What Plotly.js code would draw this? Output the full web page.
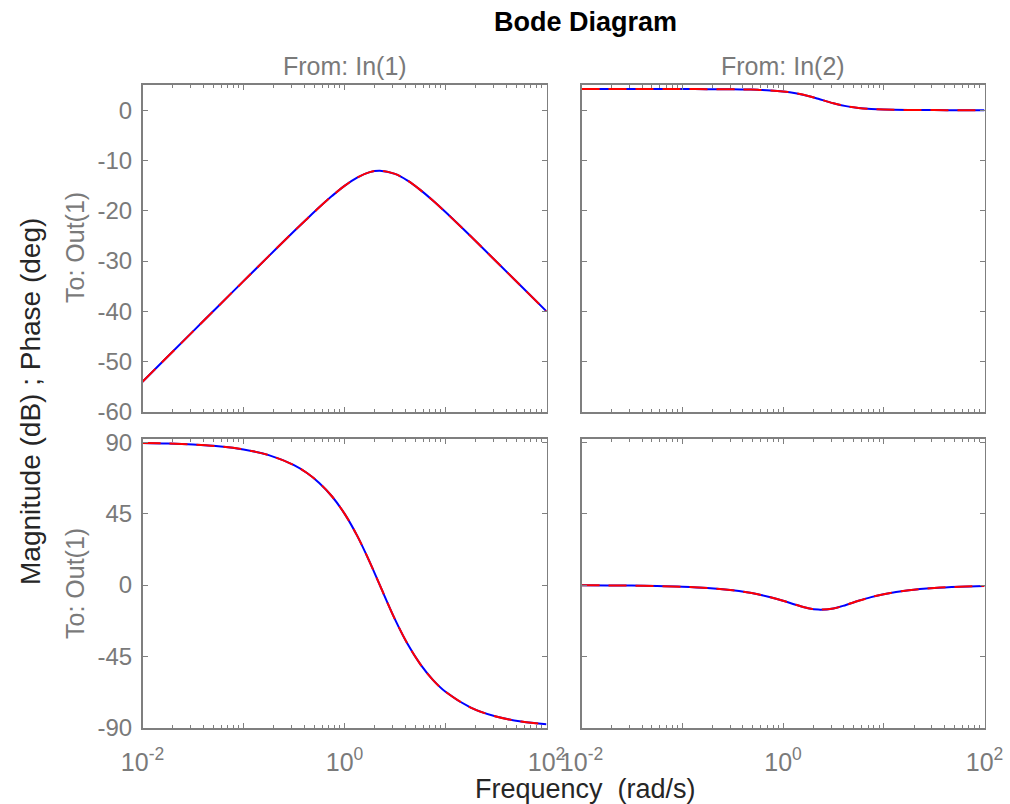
<!DOCTYPE html>
<html>
<head>
<meta charset="utf-8">
<script src="https://cdn.plot.ly/plotly-3.0.1.min.js"></script>
<style>html,body{margin:0;padding:0;background:#fff;}#chart{width:1010px;height:804px;}</style>
</head>
<body>
<div id="chart"></div>
<script>
// Frequency samples (rad/s)
const freq = [0.01, 0.01778, 0.03162, 0.05623, 0.1, 0.1778, 0.3162, 0.4217, 0.5623, 0.7499,
  1, 1.3335, 1.7783, 2.2387, 3.1623, 4.217, 5.6234, 7.4989, 10, 17.783, 31.623, 56.234, 100];

// From In(1) to Out(1)
const mag11 = [-53.98, -48.98, -43.98, -38.98, -33.99, -29.01, -24.08, -21.67, -19.31, -17.08,
  -15.05, -13.39, -12.32, -12.04, -12.67, -14.01, -15.85, -17.97, -20.26, -25.08, -30.03, -35.01, -40.00];
const phase11 = [89.54, 89.18, 88.55, 87.42, 85.42, 81.85, 75.53, 70.72, 64.35, 55.95,
  45.00, 31.13, 14.49, -0.08, -21.57, -37.16, -49.80, -59.65, -67.17, -77.13, -82.76, -85.93, -87.71];

// From In(2) to Out(1)
const mag12 = [4.19, 4.19, 4.19, 4.19, 4.19, 4.18, 4.14, 4.11, 4.04, 3.93,
  3.72, 3.37, 2.83, 2.26, 1.37, 0.80, 0.44, 0.24, 0.13, 0.04, 0.01, 0.00, 0.00];
const phase12 = [-0.11, -0.19, -0.33, -0.59, -1.05, -1.86, -3.30, -4.37, -5.79, -7.61,
  -9.83, -12.34, -14.57, -15.45, -14.72, -12.50, -9.90, -7.57, -5.72, -3.22, -1.81, -1.02, -0.57];

// Tick labels
const xTickVals = [0.01, 0.1, 1, 10, 100];
const xTickText = ['10<sup>-2</sup>', '', '10<sup>0</sup>', '', '10<sup>2</sup>'];
const magTicks = [-60, -50, -40, -30, -20, -10, 0];
const phaseTicks = [-90, -45, 0, 45, 90];

const FONT = 'Liberation Sans, Arial, Helvetica, sans-serif';
const AXCOL = '#7f7f7f';
const LBLCOL = '#7a7a7a';

const minorVals = [];
[-2, -1, 0, 1].forEach(d => { for (let k = 2; k <= 9; k++) minorVals.push(k * Math.pow(10, d)); });

function mkTraces(y, xa, ya) {
  return [
    {x: freq, y: y, xaxis: xa, yaxis: ya, type: 'scatter', mode: 'lines',
     line: {color: '#0000ff', width: 2, shape: 'spline'}, hoverinfo: 'skip'},
    {x: freq, y: y, xaxis: xa, yaxis: ya, type: 'scatter', mode: 'lines',
     line: {color: '#ff0000', width: 2, dash: '18px,9px', shape: 'spline'}, hoverinfo: 'skip'}
  ];
}

const data = [].concat(
  mkTraces(mag11, 'x', 'y'),
  mkTraces(mag12, 'x2', 'y2'),
  mkTraces(phase11, 'x3', 'y3'),
  mkTraces(phase12, 'x4', 'y4')
);

function xax(domain, anchor, labels) {
  return {
    type: 'log', range: [-2, 2], domain: domain, anchor: anchor,
    showline: true, linecolor: AXCOL, linewidth: 1.6, mirror: 'ticks',
    ticks: 'inside', ticklen: 5, tickwidth: 1, tickcolor: AXCOL,
    tickmode: 'array', tickvals: xTickVals, ticktext: xTickText,
    showticklabels: labels, ticklabelstandoff: 11,
    tickfont: {family: FONT, size: 25, color: LBLCOL},
    minor: {tickmode: 'array', tickvals: minorVals, ticks: 'inside', ticklen: 3, tickwidth: 1, tickcolor: AXCOL, showgrid: false},
    showgrid: false, zeroline: false, fixedrange: true
  };
}
function yax(domain, anchor, range, ticks, labels) {
  return {
    range: range, domain: domain, anchor: anchor,
    showline: true, linecolor: AXCOL, linewidth: 1.6, mirror: 'ticks',
    ticks: 'inside', ticklen: 5, tickwidth: 1, tickcolor: AXCOL,
    tickmode: 'array', tickvals: ticks, ticktext: ticks.map(String),
    showticklabels: labels, ticklabelstandoff: 4,
    tickfont: {family: FONT, size: 24, color: LBLCOL},
    showgrid: false, zeroline: false, fixedrange: true
  };
}

const dxL = [142.5 / 1010, 546.5 / 1010];
const dxR = [581.5 / 1010, 984.5 / 1010];
const dyT = [1 - 412 / 804, 1 - 85 / 804];
const dyB = [1 - 728 / 804, 1 - 439 / 804];
const magRange = [-60, 5];
const phaseRange = [-90, 92];

const layout = {
  width: 1010, height: 804,
  margin: {l: 0, r: 0, t: 0, b: 0},
  paper_bgcolor: '#ffffff', plot_bgcolor: '#ffffff',
  showlegend: false,
  font: {family: FONT},
  xaxis: xax(dxL, 'y', false),
  yaxis: yax(dyT, 'x', magRange, magTicks, true),
  xaxis2: xax(dxR, 'y2', false),
  yaxis2: yax(dyT, 'x2', magRange, magTicks, false),
  xaxis3: xax(dxL, 'y3', true),
  yaxis3: yax(dyB, 'x3', phaseRange, phaseTicks, true),
  xaxis4: xax(dxR, 'y4', true),
  yaxis4: yax(dyB, 'x4', phaseRange, phaseTicks, false),
  annotations: [
    {text: '<b>Bode Diagram</b>', x: 585 / 1010, y: 1 - 22 / 804, xref: 'paper', yref: 'paper',
     showarrow: false, xanchor: 'center', yanchor: 'middle', font: {family: FONT, size: 27, color: '#000000'}},
    {text: 'From: In(1)', x: 345 / 1010, y: 1 - 66 / 804, xref: 'paper', yref: 'paper',
     showarrow: false, xanchor: 'center', yanchor: 'middle', font: {family: FONT, size: 25, color: LBLCOL}},
    {text: 'From: In(2)', x: 783 / 1010, y: 1 - 66 / 804, xref: 'paper', yref: 'paper',
     showarrow: false, xanchor: 'center', yanchor: 'middle', font: {family: FONT, size: 25, color: LBLCOL}},
    {text: 'Magnitude (dB) ; Phase (deg)', x: 30 / 1010, y: 1 - 402 / 804, xref: 'paper', yref: 'paper',
     textangle: -90, showarrow: false, xanchor: 'center', yanchor: 'middle', font: {family: FONT, size: 28, color: '#262626'}},
    {text: 'To: Out(1)', x: 75 / 1010, y: 1 - 248 / 804, xref: 'paper', yref: 'paper',
     textangle: -90, showarrow: false, xanchor: 'center', yanchor: 'middle', font: {family: FONT, size: 25, color: LBLCOL}},
    {text: 'To: Out(1)', x: 75 / 1010, y: 1 - 584 / 804, xref: 'paper', yref: 'paper',
     textangle: -90, showarrow: false, xanchor: 'center', yanchor: 'middle', font: {family: FONT, size: 25, color: LBLCOL}},
    {text: 'Frequency \u00a0(rad/s)', x: 585 / 1010, y: 1 - 789 / 804, xref: 'paper', yref: 'paper',
     showarrow: false, xanchor: 'center', yanchor: 'middle', font: {family: FONT, size: 27, color: '#262626'}}
  ]
};

Plotly.newPlot('chart', data, layout, {displayModeBar: false, staticPlot: true});
</script>
</body>
</html>
